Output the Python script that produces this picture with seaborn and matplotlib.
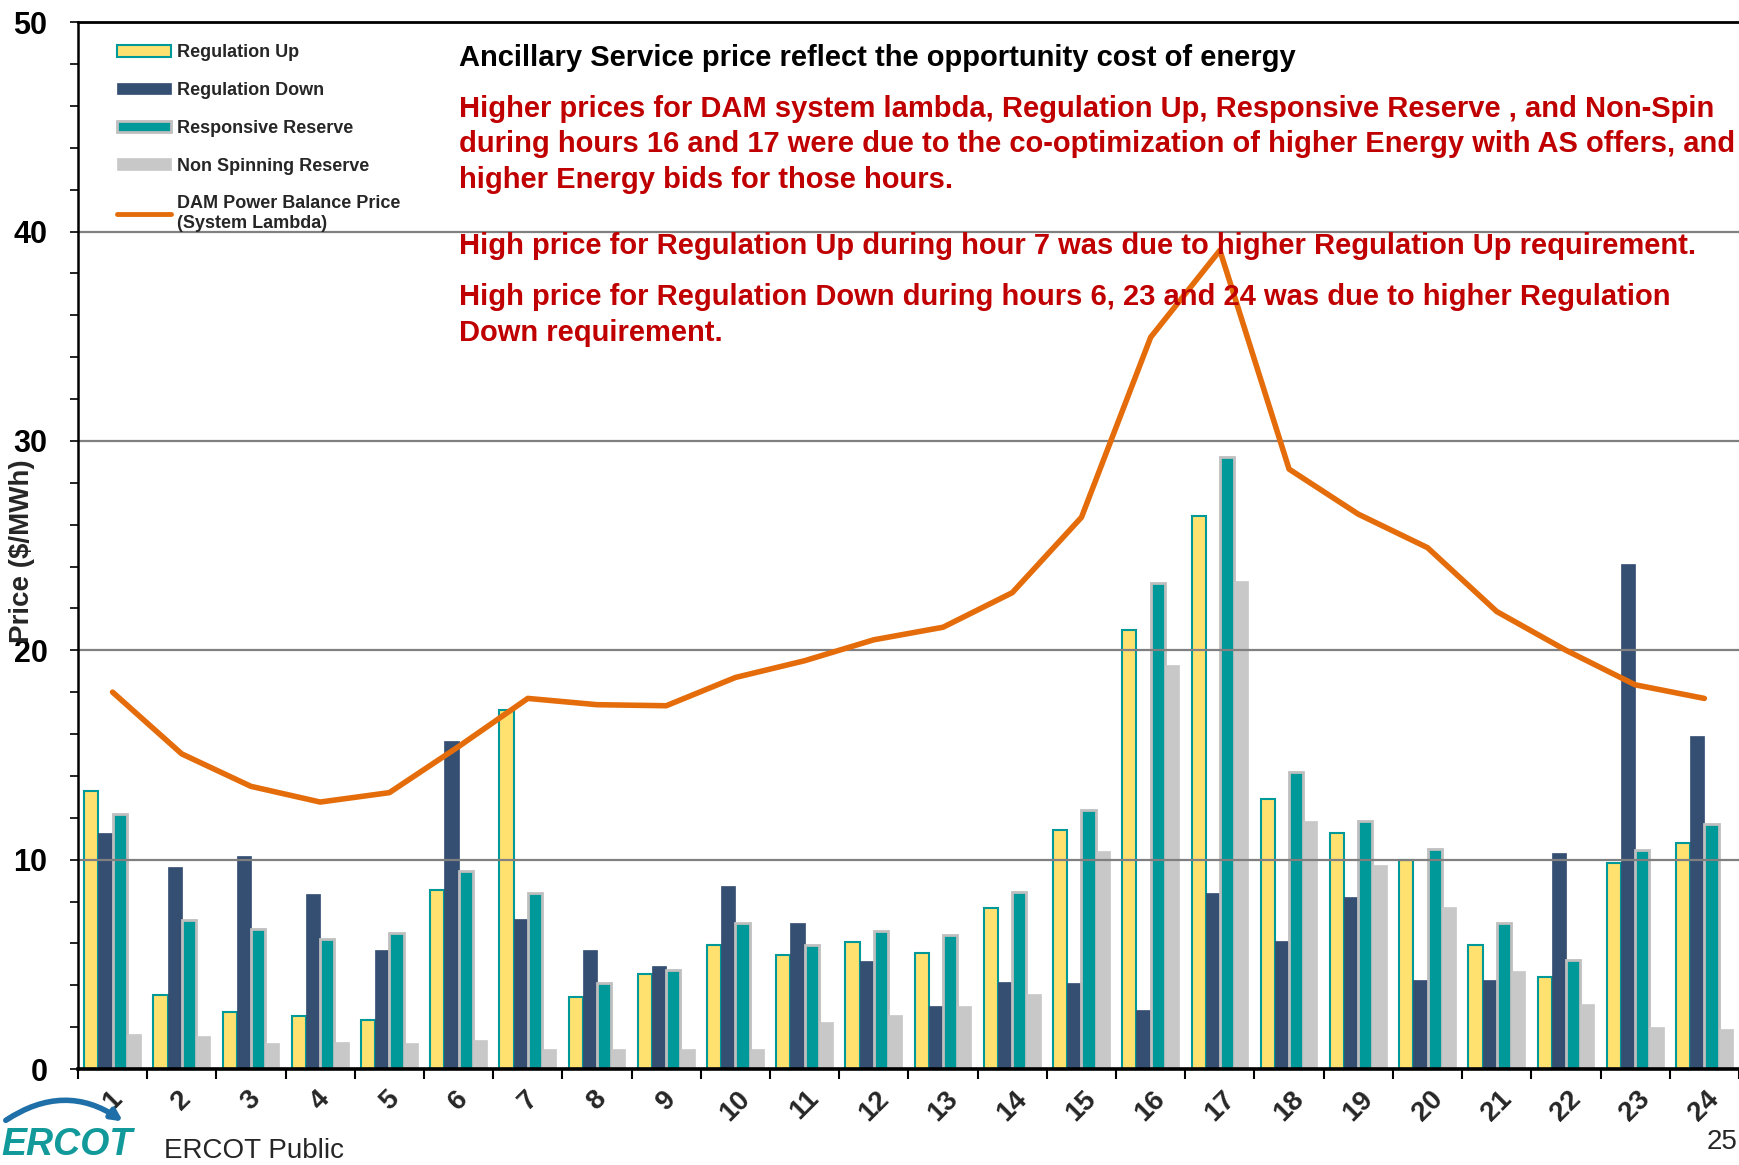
import numpy as np
import pandas as pd
import matplotlib.pyplot as plt
import seaborn as sns
from matplotlib.patches import Patch, FancyArrowPatch
from matplotlib.lines import Line2D
from matplotlib.ticker import MultipleLocator

## valores ($/MWh), horas 1..24
hours = [str(h) for h in range(1, 25)]
reg_up = [13.3, 3.55, 2.7, 2.55, 2.35, 8.55, 17.15, 3.45, 4.55, 5.9, 5.45, 6.05,
          5.55, 7.7, 11.4, 20.95, 26.4, 12.9, 11.25, 10.0, 5.9, 4.4, 9.85, 10.8]
reg_down = [11.25, 9.65, 10.15, 8.35, 5.7, 15.65, 7.15, 5.7, 4.9, 8.75, 6.95, 5.15,
            3.0, 4.15, 4.1, 2.8, 8.4, 6.1, 8.2, 4.25, 4.25, 10.3, 24.1, 15.9]
resp_res = [12.2, 7.1, 6.7, 6.2, 6.5, 9.45, 8.4, 4.1, 4.75, 6.95, 5.9, 6.6,
            6.4, 8.45, 12.35, 23.2, 29.25, 14.2, 11.85, 10.5, 6.95, 5.2, 10.45, 11.7]
non_spin = [1.65, 1.6, 1.25, 1.3, 1.25, 1.4, 0.95, 0.95, 0.95, 0.95, 2.25, 2.6,
            3.0, 3.6, 10.4, 19.3, 23.3, 11.85, 9.75, 7.75, 4.7, 3.1, 2.0, 1.9]
dam_lambda = [18.0, 15.05, 13.5, 12.75, 13.2, 15.4, 17.7, 17.4, 17.35, 18.7, 19.5, 20.5,
              21.1, 22.75, 26.35, 34.95, 39.1, 28.65, 26.5, 24.9, 21.85, 20.0, 18.35, 17.7]

services = ['Regulation Up', 'Regulation Down', 'Responsive Reserve', 'Non Spinning Reserve']
fills = ['#FFE170', '#354F73', '#009999', '#C8C8C8']
edges = ['#009999', '#354F73', '#BFBFBF', '#C8C8C8']
edge_w = [1.5, 0.5, 2.0, 0.5]
orange = '#E46C0A'
red = '#C00000'

df = pd.DataFrame({
    'Hour': hours * 4,
    'Service': np.repeat(services, 24),
    'Price': reg_up + reg_down + resp_res + non_spin,
})

sns.set_style('white')
plt.rcParams['font.family'] = ['Liberation Sans', 'DejaVu Sans']

fig = plt.figure(figsize=(17.4, 11.65), dpi=100)
ax = fig.add_axes([0.0448, 0.0824, 0.9546, 0.8986])

sns.barplot(data=df, x='Hour', y='Price', hue='Service', hue_order=services,
            palette=fills, saturation=1, width=0.82, gap=0, legend=False, ax=ax)
for cont, ec, lw in zip(ax.containers, edges, edge_w):
    for bar in cont:
        bar.set_edgecolor(ec)
        bar.set_linewidth(lw)

sns.lineplot(x=np.arange(len(hours)), y=dam_lambda, color=orange, lw=4, ax=ax, zorder=5)

ax.set_xlim(-0.5, 23.5)
ax.set_ylim(0, 50)
ax.set_xlabel('')
ax.set_ylabel('')

# eixo y
ax.set_yticks(range(0, 51, 10))
ax.yaxis.set_minor_locator(MultipleLocator(2))
ax.tick_params(axis='y', which='both', left=True, direction='out', length=6, width=1.2, colors='black')
ax.tick_params(axis='y', which='major', labelsize=22, pad=16)
for t in ax.get_yticklabels():
    t.set_fontweight('bold')
ax.yaxis.grid(True, color='#808080', lw=1.6)
ax.set_axisbelow(False)

# eixo x: rótulos no centro, marcas nas divisões
ax.set_xticks(np.arange(len(hours)))
ax.set_xticklabels(hours)
ax.set_xticks(np.arange(-0.5, len(hours)), minor=True)
ax.tick_params(axis='x', which='major', length=0, labelsize=20, pad=12)
ax.tick_params(axis='x', which='minor', bottom=True, direction='out', length=7, width=1.5, color='black')
for t in ax.get_xticklabels():
    t.set_rotation(45)
    t.set_ha('center')
    t.set_va('top')
    t.set_fontweight('bold')

ax.spines['right'].set_visible(False)
ax.spines['left'].set_linewidth(1.8)
ax.spines['top'].set_linewidth(2.0)
ax.spines['bottom'].set_linewidth(2.6)
for s in ['left', 'top', 'bottom']:
    ax.spines[s].set_color('black')
    ax.spines[s].set_zorder(6)

fig.text(0.0126, 0.527, 'Price ($/MWh)', rotation=90, ha='center', va='center',
         fontsize=20, fontweight='bold')

# legenda
handles = [Patch(facecolor=fills[0], edgecolor=edges[0], lw=1.5),
           Patch(facecolor=fills[1], edgecolor=edges[1], lw=0.5),
           Patch(facecolor=fills[2], edgecolor=edges[2], lw=2.0),
           Patch(facecolor=fills[3], edgecolor=edges[3], lw=0.5),
           Line2D([], [], color=orange, lw=3.5)]
labels = services + ['DAM Power Balance Price\n(System Lambda)']
fig.legend(handles, labels, loc='upper left', bbox_to_anchor=(0.067, 0.962),
           frameon=False, prop=dict(weight='bold', size=13), handlelength=3.0,
           handleheight=0.6, labelspacing=1.15, handletextpad=0.35,
           borderaxespad=0, borderpad=0)

# textos
x0 = 0.264
fig.text(x0, 0.9505, 'Ancillary Service price reflect the opportunity cost of energy',
         fontsize=21, fontweight='bold', color='black', va='center')
red_lines = [
    (0.9067, 'Higher prices for DAM system lambda, Regulation Up, Responsive Reserve , and Non-Spin'),
    (0.8762, 'during hours 16 and 17 were due to the co-optimization of higher Energy with AS offers, and'),
    (0.8457, 'higher Energy bids for those hours.'),
    (0.7886, 'High price for Regulation Up during hour 7 was due to higher Regulation Up requirement.'),
    (0.7448, 'High price for Regulation Down during hours 6, 23 and 24 was due to higher Regulation'),
    (0.7143, 'Down requirement.'),
]
for y, s in red_lines:
    fig.text(x0, y, s, fontsize=21, fontweight='bold', color=red, va='center', zorder=7)

# rodapé
fig.text(0.094, 0.012, 'ERCOT Public', fontsize=20, va='center')
fig.text(0.981, 0.02, '25', fontsize=20, va='center')
fig.text(0.001, 0.017, 'ERCOT', fontsize=27, fontweight='heavy', style='italic',
         color='#12999A', va='center')
fig.patches.append(FancyArrowPatch((0.002, 0.037), (0.072, 0.036), transform=fig.transFigure,
                                   connectionstyle='arc3,rad=-0.35', arrowstyle='-|>',
                                   mutation_scale=16, lw=4, color='#1F6FA8'))

plt.savefig('out.png', dpi=100)
